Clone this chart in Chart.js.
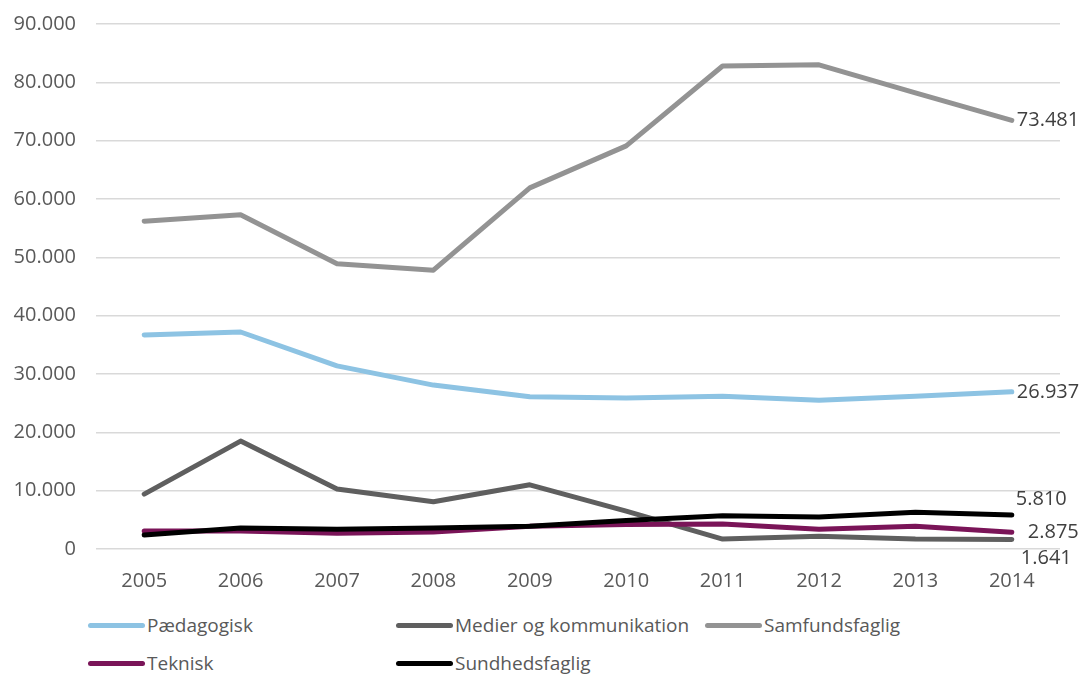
<!DOCTYPE html>
<html>
<head>
<meta charset="utf-8">
<script src="https://cdn.jsdelivr.net/npm/chart.js@4"></script>
<style>
  body { margin: 0; background: #fff; font-family: "Open Sans", sans-serif; }
  #wrap { position: relative; width: 1085px; height: 675px; overflow: hidden; }
  #chart { position: absolute; left: 0; top: 0; }
  .leg { position: absolute; display: flex; align-items: center; font-size: 19px; color: #595959; white-space: nowrap; }
  .leg span.sw { display: inline-block; width: 57px; height: 5px; border-radius: 3px; margin-right: 2px; }
</style>
</head>
<body>
<div id="wrap">
  <canvas id="chart" width="1085" height="600"></canvas>
  <div id="legend"></div>
</div>
<script>
var years = ['2005', '2006', '2007', '2008', '2009', '2010', '2011', '2012', '2013', '2014'];
var seriesNames = ['Pædagogisk', 'Medier og kommunikation', 'Samfundsfaglig', 'Teknisk', 'Sundhedsfaglig'];
var paedagogisk = [36700, 37200, 31400, 28100, 26100, 25900, 26200, 25500, 26200, 26937];
var medier = [9400, 18500, 10300, 8100, 11000, 6500, 1700, 2200, 1700, 1641];
var samfundsfaglig = [56200, 57300, 48900, 47800, 61900, 69100, 82800, 83000, 78200, 73481];
var teknisk = [3100, 3100, 2700, 2900, 3900, 4200, 4300, 3400, 3900, 2875];
var sundhedsfaglig = [2400, 3600, 3400, 3600, 3900, 4900, 5700, 5500, 6300, 5810];
var colors = ['#8dc3e3', '#5f5f5f', '#939393', '#7a1458', '#000000'];

// where the end value label sits relative to the last point
var endLabelPos = [
  { dx: 5, dy: 0 },
  { dx: 9, dy: 19 },
  { dx: 5, dy: 0 },
  { dx: 16, dy: 0 },
  { dx: 4, dy: -16 }
];

function fmt(v) {
  return String(Math.round(v)).replace(/\B(?=(\d{3})+(?!\d))/g, '.');
}

var allData = [paedagogisk, medier, samfundsfaglig, teknisk, sundhedsfaglig];
var datasets = allData.map(function (d, i) {
  return {
    label: seriesNames[i],
    data: d,
    borderColor: colors[i],
    backgroundColor: colors[i],
    borderWidth: 5,
    pointRadius: 0,
    tension: 0,
    borderCapStyle: 'round',
    borderJoinStyle: 'round',
    order: 4 - i
  };
});

var endLabels = {
  id: 'endLabels',
  afterDatasetsDraw: function (chart) {
    var ctx = chart.ctx;
    ctx.save();
    ctx.font = '20px "Open Sans"';
    ctx.fillStyle = '#404040';
    ctx.textBaseline = 'middle';
    ctx.textAlign = 'left';
    chart.data.datasets.forEach(function (ds, i) {
      var meta = chart.getDatasetMeta(i);
      var pt = meta.data[meta.data.length - 1];
      var p = endLabelPos[i];
      ctx.fillText(fmt(ds.data[ds.data.length - 1]), pt.x + p.dx, pt.y + p.dy);
    });
    ctx.restore();
  }
};

var ctx = document.getElementById('chart').getContext('2d');
var chart = new Chart(ctx, {
  type: 'line',
  data: { labels: years, datasets: datasets },
  plugins: [endLabels],
  options: {
    responsive: false,
    animation: false,
    layout: { padding: { top: 24, right: 25, left: 0, bottom: 0 } },
    plugins: { legend: { display: false }, tooltip: { enabled: false } },
    scales: {
      x: {
        offset: true,
        grid: { display: false },
        border: { display: false },
        ticks: { color: '#595959', font: { family: 'Open Sans', size: 20 }, padding: 12, maxRotation: 0 },
        afterFit: function (s) { s.height = 51; s.paddingLeft = 0; s.paddingRight = 0; }
      },
      y: {
        min: 0,
        max: 90000,
        grid: { color: '#d9d9d9', lineWidth: 1.5, drawTicks: false },
        border: { display: false },
        ticks: {
          stepSize: 10000,
          color: '#595959',
          font: { family: 'Open Sans', size: 20 },
          padding: 20,
          callback: function (v) { return fmt(v); }
        },
        afterFit: function (s) { s.width = 96; s.paddingTop = 0; s.paddingBottom = 0; }
      }
    }
  }
});

// legend laid out in the two fixed rows of the original
var legendSlots = [[88, 625], [396, 625], [705, 625], [88, 663], [396, 663]];
var legendHtml = '';
seriesNames.forEach(function (n, i) {
  legendHtml += '<div class="leg" style="left:' + legendSlots[i][0] + 'px;top:' + (legendSlots[i][1] - 13) + 'px">' +
    '<span class="sw" style="background:' + colors[i] + '"></span>' + n + '</div>';
});
document.getElementById('legend').innerHTML = legendHtml;
</script>
</body>
</html>
